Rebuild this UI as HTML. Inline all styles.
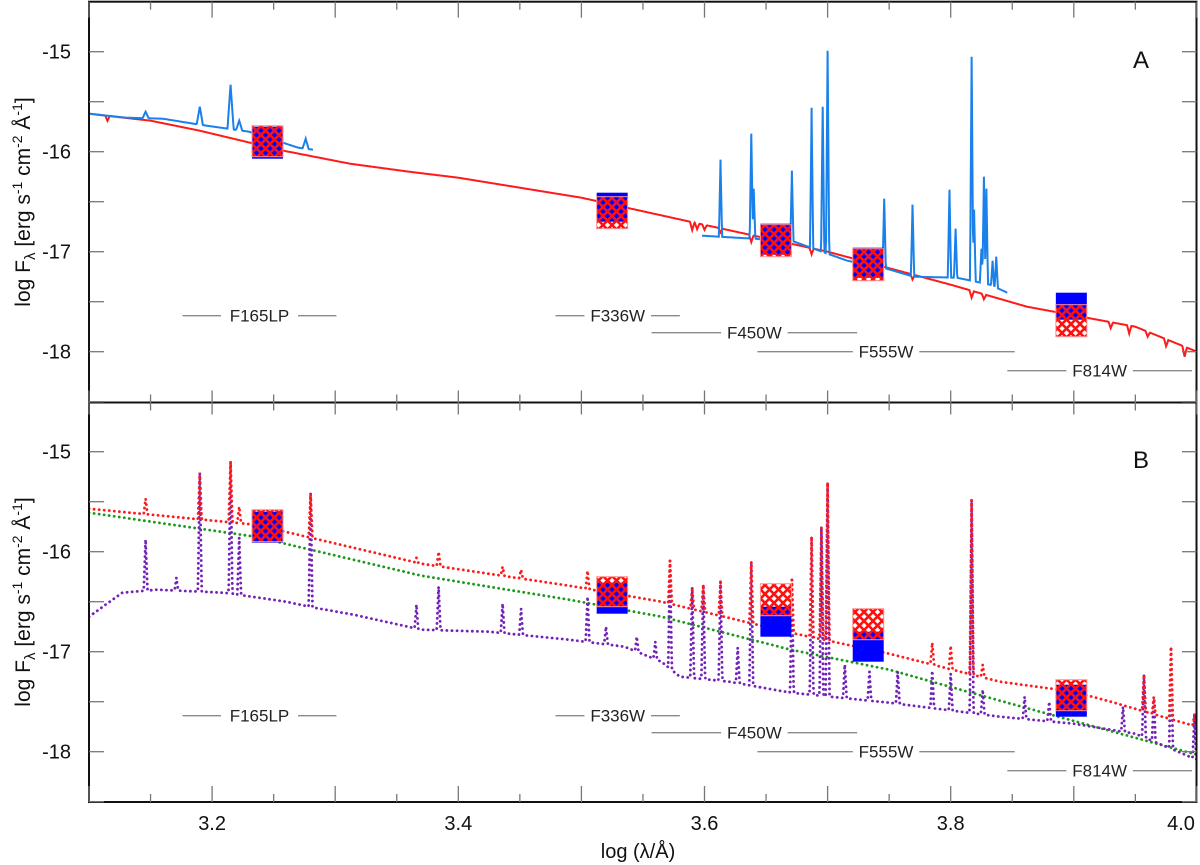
<!DOCTYPE html>
<html><head><meta charset="utf-8">
<style>
html,body{margin:0;padding:0;background:#fff;}
svg{display:block;font-family:"Liberation Sans",Arial,sans-serif;}
</style></head>
<body>
<svg id="chart" width="1200" height="865" viewBox="0 0 1200 865" xmlns="http://www.w3.org/2000/svg">
<defs>
<pattern id="hatch" patternUnits="userSpaceOnUse" width="9" height="9">
<path d="M0,0 L9,9 M9,0 L0,9 M-1,8 L1,10 M8,-1 L10,1 M-1,1 L1,-1 M8,10 L10,8" stroke="#ff1010" stroke-width="2.6" fill="none"/>
</pattern>
<clipPath id="clipTop"><rect x="89" y="2" width="1108" height="400"/></clipPath>
<clipPath id="clipBot"><rect x="89" y="403" width="1108" height="399"/></clipPath>
</defs>
<g id="gTop" clip-path="url(#clipTop)"></g>
<g id="gBot" clip-path="url(#clipBot)"></g>
<g id="axes"></g>
<text x="1133" y="68" font-size="24" fill="#111">A</text>
<text x="1133" y="468" font-size="24" fill="#111">B</text>
<text x="638" y="858" font-size="20" text-anchor="middle" fill="#111">log (λ/Å)</text>
<text transform="translate(30,202) rotate(-90)" font-size="21" text-anchor="middle" fill="#111">log F<tspan font-size="15" dy="5">λ</tspan><tspan dy="-5"> [erg s</tspan><tspan font-size="14" dy="-8">-1</tspan><tspan dy="8"> cm</tspan><tspan font-size="14" dy="-8">-2</tspan><tspan dy="8"> Å</tspan><tspan font-size="14" dy="-8">-1</tspan><tspan dy="8">]</tspan></text>
<text transform="translate(30,602) rotate(-90)" font-size="21" text-anchor="middle" fill="#111">log F<tspan font-size="15" dy="5">λ</tspan><tspan dy="-5"> [erg s</tspan><tspan font-size="14" dy="-8">-1</tspan><tspan dy="8"> cm</tspan><tspan font-size="14" dy="-8">-2</tspan><tspan dy="8"> Å</tspan><tspan font-size="14" dy="-8">-1</tspan><tspan dy="8">]</tspan></text>
</svg>
<script>
// ---------- data ----------
// Panel A: model (red solid)
const aRedContL = [3.1,3.15,3.19,3.258,3.312,3.36,3.4,3.5,3.592,3.7,3.8,3.862,3.95,4.0];
const aRedContF = [-15.62,-15.69,-15.79,-15.99,-16.12,-16.2,-16.26,-16.46,-16.71,-17.0,-17.33,-17.55,-17.75,-18.0];
const aRedAbsL = [3.115,3.59,3.594,3.6,3.613,3.638,3.687,3.769,3.817,3.827,3.93,3.945,3.96,3.975,3.99];
const aRedAbsD = [-0.05,-0.08,-0.06,-0.05,-0.04,-0.07,-0.06,-0.05,-0.07,-0.05,-0.06,-0.08,-0.05,-0.07,-0.1];
// Panel A: observed UV (blue)
const aUvContL = [3.1,3.13,3.16,3.19,3.23,3.26,3.27,3.282];
const aUvContF = [-15.62,-15.66,-15.67,-15.73,-15.8,-15.92,-15.96,-15.98];
const aUvLineL = [3.118,3.146,3.19,3.215,3.222,3.276];
const aUvLineF = [-15.72,-15.6,-15.55,-15.33,-15.69,-15.87];
// Panel A: observed optical (blue)
const aOptContL = [3.598,3.64,3.673,3.7,3.716,3.748,3.77,3.805,3.832,3.846];
const aOptContF = [-16.84,-16.87,-16.9,-17.02,-17.09,-17.17,-17.25,-17.26,-17.33,-17.41];
const aOptLineL = [3.613,3.638,3.640,3.671,3.687,3.696,3.700,3.746,3.769,3.799,3.804,3.817,3.819,3.825,3.827,3.829,3.834,3.837];
const aOptLineF = [-16.08,-15.82,-16.37,-16.19,-15.56,-15.55,-14.99,-16.47,-16.53,-16.38,-16.77,-15.05,-16.58,-16.97,-16.25,-16.37,-17.09,-17.05];
// Panel A photometry boxes
const aBoxL = [3.245,3.525,3.658,3.733,3.898];
const aObsHi = [-15.75,-16.41,-16.72,-16.96,-17.41];
const aObsLo = [-16.07,-16.70,-17.03,-17.26,-17.68];
const aModHi = [-15.74,-16.45,-16.73,-16.97,-17.53];
const aModLo = [-16.05,-16.77,-17.05,-17.29,-17.85];
// Panel B: red dotted model
const bRedContL = [3.1,3.235,3.37,3.49,3.565,3.67,3.75,3.84,3.9,3.93,4.0];
const bRedContF = [-15.57,-15.73,-16.12,-16.34,-16.5,-16.81,-17.02,-17.3,-17.4,-17.5,-17.75];
const bRedLineL = [3.146,3.190,3.215,3.222,3.280,3.366,3.384,3.436,3.451,3.505,3.572,3.590,3.599,3.613,3.638,3.671,3.687,3.695,3.700,3.785,3.800,3.817,3.826,3.957,3.965,3.979,3.998];
const bRedLineF = [-15.47,-15.21,-15.10,-15.55,-15.42,-16.06,-16.0,-16.15,-16.18,-16.19,-16.09,-16.36,-16.33,-16.30,-16.10,-16.28,-15.85,-15.76,-15.31,-16.91,-16.94,-15.48,-17.13,-17.23,-17.45,-16.95,-17.63];
// Panel B: green dotted continuum
const bGreenL = [3.1,3.235,3.37,3.49,3.565,3.67,3.75,3.84,4.0];
const bGreenF = [-15.61,-15.85,-16.24,-16.48,-16.65,-16.98,-17.18,-17.49,-18.03];
// Panel B: purple dotted model
const bPurContL = [3.1,3.127,3.155,3.21,3.26,3.283,3.315,3.37,3.425,3.49,3.535,3.565,3.58,3.62,3.67,3.75,3.84,3.9,3.95,4.0];
const bPurContF = [-16.65,-16.41,-16.38,-16.41,-16.5,-16.56,-16.63,-16.78,-16.8,-16.88,-16.95,-17.1,-17.25,-17.3,-17.41,-17.51,-17.65,-17.72,-17.82,-18.08];
const bPurLineL = [3.146,3.171,3.190,3.215,3.222,3.280,3.366,3.384,3.436,3.451,3.505,3.52,3.545,3.56,3.572,3.590,3.599,3.613,3.627,3.638,3.671,3.687,3.695,3.700,3.714,3.734,3.757,3.785,3.800,3.817,3.826,3.86,3.88,3.94,3.957,3.965,3.979,3.998];
const bPurLineF = [-15.88,-16.26,-15.21,-15.10,-15.86,-15.42,-16.53,-16.35,-16.52,-16.57,-16.45,-16.75,-16.85,-16.9,-16.09,-16.36,-16.33,-16.30,-16.96,-16.10,-16.28,-15.85,-15.76,-15.31,-17.13,-17.2,-17.2,-17.19,-17.22,-15.48,-17.38,-17.45,-17.5,-17.55,-17.23,-17.45,-16.95,-17.63];
// Panel B photometry boxes
const bBoxL = [3.245,3.525,3.658,3.733,3.898];
const bObsHi = [-15.60,-16.31,-16.55,-16.80,-17.33];
const bObsLo = [-15.91,-16.62,-16.85,-17.10,-17.65];
const bModHi = [-15.58,-16.25,-16.32,-16.57,-17.28];
const bModLo = [-15.90,-16.55,-16.64,-16.88,-17.59];
// Filters
const filterNames = ["F165LP","F336W","F450W","F555W","F814W"];
const filterStart = [3.176,3.479,3.557,3.643,3.846];
const filterEnd = [3.301,3.580,3.724,3.852,3.996];
const filterLevel = [-17.64,-17.64,-17.81,-18.0,-18.19];
// Axis ticks
const xTickLabels = ["3.2","3.4","3.6","3.8","4.0"];
const yTickLabels = ["-15","-16","-17","-18"];

// ---------- scales ----------
const NS="http://www.w3.org/2000/svg";
const sx = l => 89 + (l-3.1)*1231;
const syT = f => 51.7 + (-15-f)*100;
const syB = f => 451.7 + (-15-f)*100;
function interp(xs, ys, x){
  if(x<=xs[0]) return ys[0];
  for(let i=1;i<xs.length;i++){ if(x<=xs[i]){const t=(x-xs[i-1])/(xs[i]-xs[i-1]);return ys[i-1]+t*(ys[i]-ys[i-1]);} }
  return ys[ys.length-1];
}
function grid(a,b,extra){
  const g=[]; for(let l=a;l<=b+1e-9;l+=0.0004) g.push(l);
  if(extra) extra.forEach(v=>{ if(v>=a&&v<=b) g.push(v); });
  return g.sort((p,q)=>p-q);
}
function spectrum(cL,cF,lL,lF,hw){
  const pts=[];
  grid(cL[0],cL[cL.length-1],lL).forEach(l=>{
    const c=interp(cL,cF,l); let v=c;
    if(lL){ for(let i=0;i<lL.length;i++){ const d=Math.abs(l-lL[i]); if(d<hw){ const p=c+(lF[i]-c)*(1-d/hw); if(p>v) v=p; } } }
    pts.push([l,v]);
  });
  return pts;
}
function absSpectrum(cL,cF,lL,dL,hw){
  const pts=[];
  grid(cL[0],cL[cL.length-1],lL).forEach(l=>{
    let v=interp(cL,cF,l);
    for(let i=0;i<lL.length;i++){const d=Math.abs(l-lL[i]); if(d<hw) v+=dL[i]*(1-d/hw);}
    pts.push([l,v]);
  });
  return pts;
}
function pathD(pts, sy){ return pts.map((p,i)=>(i?'L':'M')+sx(p[0]).toFixed(1)+','+sy(p[1]).toFixed(1)).join(''); }
function mk(tag, attrs, parent){ const e=document.createElementNS(NS,tag); for(const k in attrs) e.setAttribute(k,attrs[k]); parent.appendChild(e); return e; }

const gTop=document.getElementById('gTop'), gBot=document.getElementById('gBot'), axes=document.getElementById('axes');

// ---------- panel A ----------
let e;
e=mk('path',{d:pathD(absSpectrum(aRedContL,aRedContF,aRedAbsL,aRedAbsD,0.0018),syT),fill:'none',stroke:'#ff1a1a','stroke-width':2},gTop);


e=mk('path',{d:pathD(spectrum(aUvContL,aUvContF,aUvLineL,aUvLineF,0.0025),syT),fill:'none',stroke:'#1a80ea','stroke-width':2},gTop);


e=mk('path',{d:pathD(spectrum(aOptContL,aOptContF,aOptLineL,aOptLineF,0.0013),syT),fill:'none',stroke:'#1a80ea','stroke-width':2},gTop);



function boxes(g, sy, L, oHi, oLo, mHi, mLo, pfx){
  for(let i=0;i<L.length;i++){
    const x=sx(L[i])-15.5;
    let r=mk('rect',{x:x,y:sy(oHi[i]),width:31,height:sy(oLo[i])-sy(oHi[i]),fill:'#0000ff'},g);
    
    
    let h=mk('rect',{x:x,y:sy(mHi[i]),width:31,height:sy(mLo[i])-sy(mHi[i]),fill:'url(#hatch)',stroke:'#ff9090','stroke-width':1},g);
    
    
  }
}
boxes(gTop, syT, aBoxL, aObsHi, aObsLo, aModHi, aModLo, 'panel-a');

// ---------- panel B ----------
e=mk('path',{d:pathD(spectrum(bGreenL,bGreenF,null,null,0),syB),fill:'none',stroke:'#189a18','stroke-width':2.8,'stroke-dasharray':'0.1 5','stroke-linecap':'round'},gBot);


e=mk('path',{d:pathD(spectrum(bPurContL,bPurContF,bPurLineL,bPurLineF,0.0015),syB),fill:'none',stroke:'#7222b8','stroke-width':2.8,'stroke-dasharray':'0.1 5','stroke-linecap':'round'},gBot);


e=mk('path',{d:pathD(spectrum(bRedContL,bRedContF,bRedLineL,bRedLineF,0.0015),syB),fill:'none',stroke:'#ff1a1a','stroke-width':2.8,'stroke-dasharray':'0.1 5','stroke-linecap':'round'},gBot);


boxes(gBot, syB, bBoxL, bObsHi, bObsLo, bModHi, bModLo, 'panel-b');

// ---------- filters ----------
[[syT,'a'],[syB,'b']].forEach(([sy,p])=>{
  for(let i=0;i<filterNames.length;i++){
    const x1=sx(filterStart[i]), x2=sx(filterEnd[i]), y=sy(filterLevel[i]);
    let ln=mk('line',{x1:x1,x2:x2,y1:y,y2:y,stroke:'#8a8a8a','stroke-width':1.3},axes);
    
    
    const tw=filterNames[i].length*10.5+14;
    mk('rect',{x:(x1+x2)/2-tw/2,y:y-10,width:tw,height:20,fill:'#fff'},axes);
    let t=mk('text',{x:(x1+x2)/2,y:y+6,'font-size':17,'text-anchor':'middle',fill:'#222'},axes);
    t.textContent=filterNames[i];
    
    
  }
});

// ---------- axes ----------
mk('rect',{x:89,y:1.7,width:1107.5,height:800.3,fill:'none',stroke:'#111','stroke-width':2},axes);
mk('line',{x1:89,x2:1196.5,y1:402.5,y2:402.5,stroke:'#111','stroke-width':2},axes);
for(let k=0;k<=18;k++){
  const l=3.1+k*0.05, x=sx(l), major=(k%2===0), len=major?16:8;
  mk('line',{x1:x,x2:x,y1:802,y2:802-len,stroke:'#777','stroke-width':1.3},axes);
  mk('line',{x1:x,x2:x,y1:402.5-len/2-4,y2:402.5+len/2+4,stroke:'#777','stroke-width':1.3},axes);
  mk('line',{x1:x,x2:x,y1:1.7,y2:1.7+len,stroke:'#777','stroke-width':1.3},axes);
}
xTickLabels.forEach((s,i)=>{
  const x=Math.min(sx(parseFloat(s)),1181);
  let t=mk('text',{x:x,y:830,'font-size':20,'text-anchor':'middle',fill:'#111'},axes);
  t.textContent=s;
  
  
});
[syT,syB].forEach((sy,pi)=>{
  for(let k=0;k<=7;k++){
    const f=-15-k*0.5, y=sy(f);
    mk('line',{x1:89,x2:104,y1:y,y2:y,stroke:'#777','stroke-width':1.3},axes);
    mk('line',{x1:1182,x2:1196.5,y1:y,y2:y,stroke:'#777','stroke-width':1.3},axes);
  }
  yTickLabels.forEach(s=>{
    let t=mk('text',{x:71,y:sy(parseFloat(s))+7,'font-size':20,'text-anchor':'end',fill:'#111'},axes);
    t.textContent=s;
    
    
  });
});
</script>
</body></html>
